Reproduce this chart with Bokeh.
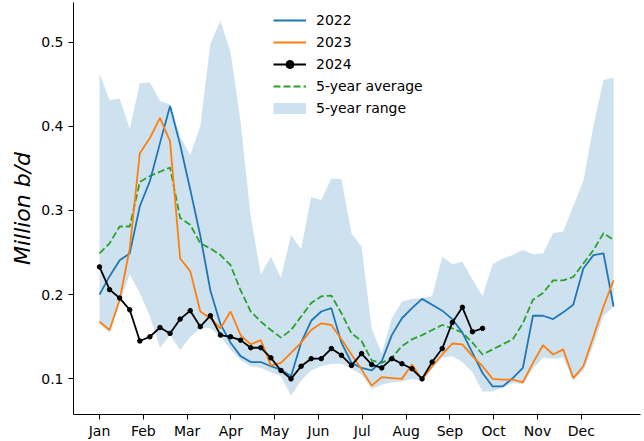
import numpy as np
from bokeh.plotting import figure
from bokeh.models import Range1d, FixedTicker, Legend, LegendItem
from bokeh.embed import file_html
from bokeh.resources import INLINE

# ---- data -------------------------------------------------------------
weeks = list(range(1, 53))
month_labels = ["Jan", "Feb", "Mar", "Apr", "May", "Jun",
                "Jul", "Aug", "Sep", "Oct", "Nov", "Dec"]
y_ticks = [0.1, 0.2, 0.3, 0.4, 0.5]

y2022 = [0.200, 0.222, 0.241, 0.249, 0.305, 0.335, 0.380, 0.424, 0.378, 0.325,
         0.270, 0.205, 0.165, 0.143, 0.127, 0.120, 0.120, 0.115, 0.111, 0.103,
         0.143, 0.169, 0.180, 0.184, 0.143, 0.119, 0.113, 0.110, 0.121, 0.152,
         0.172, 0.184, 0.195, 0.188, 0.181, 0.171, 0.155, 0.131, 0.107, 0.091,
         0.091, 0.101, 0.113, 0.175, 0.175, 0.171, 0.179, 0.188, 0.231, 0.247,
         0.249, 0.186]

y2023 = [0.168, 0.158, 0.194, 0.255, 0.368, 0.386, 0.410, 0.382, 0.243, 0.228,
         0.180, 0.172, 0.160, 0.180, 0.152, 0.141, 0.146, 0.116, 0.119, 0.131,
         0.143, 0.158, 0.166, 0.164, 0.147, 0.129, 0.111, 0.092, 0.102, 0.101,
         0.100, 0.117, 0.099, 0.115, 0.129, 0.142, 0.141, 0.127, 0.115, 0.100,
         0.099, 0.099, 0.096, 0.119, 0.140, 0.129, 0.135, 0.101, 0.115, 0.150,
         0.186, 0.217]

y2024 = [0.233, 0.206, 0.196, 0.182, 0.145, 0.150, 0.161, 0.154, 0.171, 0.181,
         0.162, 0.175, 0.152, 0.150, 0.146, 0.137, 0.137, 0.125, 0.110, 0.100,
         0.115, 0.124, 0.124, 0.136, 0.128, 0.116, 0.130, 0.117, 0.113, 0.124,
         0.118, 0.112, 0.100, 0.120, 0.136, 0.167, 0.185, 0.156, 0.160]
weeks2024 = weeks[:len(y2024)]

avg5 = [0.249, 0.261, 0.281, 0.281, 0.334, 0.341, 0.346, 0.351, 0.291, 0.283,
        0.261, 0.255, 0.247, 0.235, 0.205, 0.180, 0.168, 0.158, 0.149, 0.158,
        0.174, 0.190, 0.198, 0.199, 0.178, 0.154, 0.145, 0.122, 0.119, 0.125,
        0.139, 0.147, 0.152, 0.158, 0.164, 0.160, 0.155, 0.143, 0.129, 0.135,
        0.141, 0.147, 0.166, 0.194, 0.202, 0.217, 0.217, 0.221, 0.237, 0.253,
        0.273, 0.265]

range_hi = [0.463, 0.431, 0.433, 0.397, 0.451, 0.452, 0.430, 0.426, 0.388, 0.366,
            0.400, 0.498, 0.525, 0.488, 0.405, 0.293, 0.224, 0.245, 0.220, 0.271,
            0.254, 0.316, 0.312, 0.338, 0.337, 0.273, 0.257, 0.160, 0.130, 0.172,
            0.192, 0.195, 0.196, 0.198, 0.245, 0.236, 0.239, 0.218, 0.198, 0.236,
            0.243, 0.247, 0.253, 0.248, 0.249, 0.273, 0.275, 0.305, 0.335, 0.400,
            0.455, 0.458]

range_lo = [0.165, 0.155, 0.190, 0.224, 0.202, 0.174, 0.137, 0.152, 0.134, 0.150,
            0.160, 0.160, 0.150, 0.135, 0.122, 0.115, 0.113, 0.108, 0.103, 0.080,
            0.098, 0.110, 0.115, 0.118, 0.118, 0.112, 0.105, 0.088, 0.093, 0.096,
            0.097, 0.100, 0.098, 0.112, 0.125, 0.127, 0.120, 0.108, 0.085, 0.085,
            0.090, 0.095, 0.094, 0.112, 0.125, 0.124, 0.125, 0.098, 0.110, 0.140,
            0.175, 0.186]

# ---- figure -----------------------------------------------------------
FONT = "DejaVu Sans"
p = figure(width=644, height=441, output_backend="svg", toolbar_location=None,
           x_range=Range1d(-1.58, 54.67), y_range=Range1d(0.0577, 0.5470),
           min_border_left=73, min_border_right=4, min_border_top=2,
           min_border_bottom=26)
p.outline_line_color = None
p.xgrid.visible = False
p.ygrid.visible = False

band = p.varea(x=weeks, y1=range_lo, y2=range_hi, fill_color="#1f77b4",
               fill_alpha=0.22)
r_avg = p.line(weeks, avg5, line_color="#2ca02c", line_width=1.8,
               line_dash="7 3")
r22 = p.line(weeks, y2022, line_color="#1f77b4", line_width=1.8)
r23 = p.line(weeks, y2023, line_color="#ff7f0e", line_width=1.8)
r24 = p.line(weeks2024, y2024, line_color="black", line_width=1.8)
r24m = p.scatter(weeks2024, y2024, size=4.5, fill_color="black",
                 line_color="black")
# legend swatch for the range band (drawn outside the visible range)
r_band_leg = p.line([0, 1], [-1, -1], line_color="#1f77b4", line_alpha=0.22,
                    line_width=11)

# axes
month_pos = [round(1 + m * 365 / 84, 4) for m in range(12)]
p.xaxis.ticker = FixedTicker(ticks=month_pos)
p.xaxis.major_label_overrides = {pos: lab for pos, lab in zip(month_pos, month_labels)}
p.yaxis.ticker = FixedTicker(ticks=y_ticks)
p.yaxis.major_label_overrides = {t: f"{t:.1f}" for t in y_ticks}

for ax in (p.xaxis[0], p.yaxis[0]):
    ax.axis_line_color = "black"
    ax.axis_line_width = 1
    ax.major_tick_line_color = "black"
    ax.major_tick_out = 5
    ax.major_tick_in = 0
    ax.minor_tick_out = 0
    ax.minor_tick_in = 0
    ax.major_label_text_font = FONT
    ax.major_label_text_font_size = "14px"
    ax.major_label_text_color = "black"
p.xaxis.major_label_standoff = 3
p.yaxis.major_label_standoff = 5
p.yaxis.axis_label = "Million b/d"
p.yaxis.axis_label_text_font = FONT
p.yaxis.axis_label_text_font_style = "italic"
p.yaxis.axis_label_text_font_size = "22px"
p.yaxis.axis_label_text_color = "black"
p.yaxis.axis_label_standoff = 3

legend = Legend(items=[
    LegendItem(label="2022", renderers=[r22]),
    LegendItem(label="2023", renderers=[r23]),
    LegendItem(label="2024", renderers=[r24, r24m]),
    LegendItem(label="5-year average", renderers=[r_avg]),
    LegendItem(label="5-year range", renderers=[r_band_leg]),
], location=(200, 296))
legend.padding = 0
legend.margin = 0
legend.spacing = 2
legend.glyph_width = 33
legend.glyph_height = 20
legend.label_height = 20
legend.label_standoff = 10
legend.label_text_font = FONT
legend.label_text_font_size = "14px"
legend.label_text_color = "black"
legend.border_line_color = None
legend.background_fill_alpha = 0
p.add_layout(legend)

open("out.html", "w").write(file_html(p, INLINE))
